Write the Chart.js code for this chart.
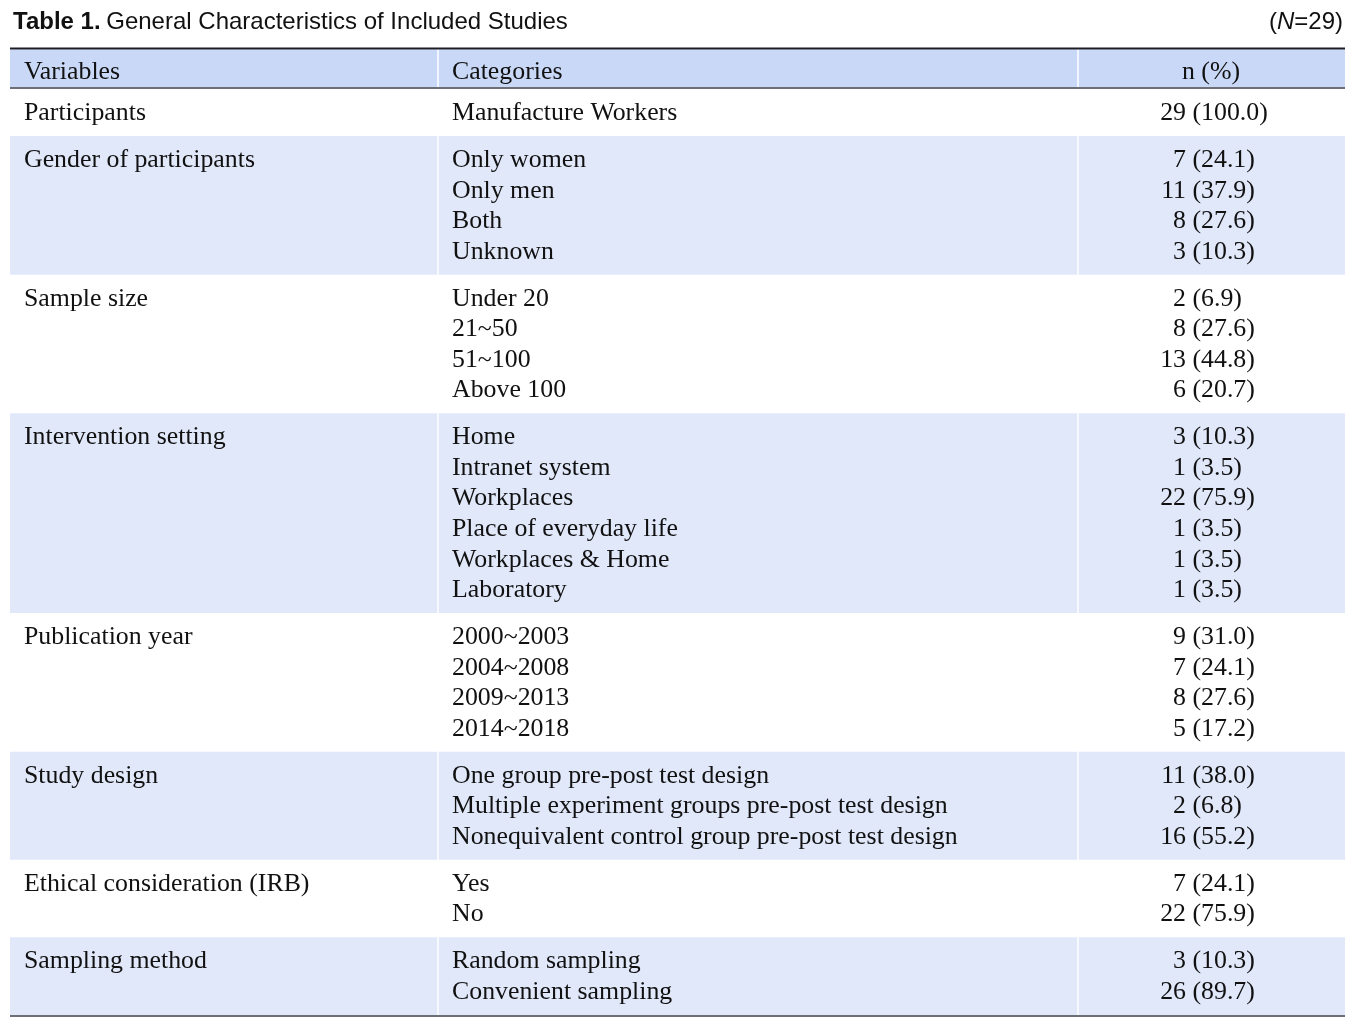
<!DOCTYPE html>
<html>
<head>
<meta charset="utf-8">
<script src="https://cdn.jsdelivr.net/npm/chart.js@4.4.1/dist/chart.umd.min.js"></script>
<style>
  html, body { margin: 0; padding: 0; background: #ffffff; }
  #wrap { width: 1365px; height: 1019px; }
</style>
</head>
<body>
<div id="wrap"><canvas id="c" width="1365" height="1019"></canvas></div>
<script>
// ---------------- DATA ----------------
const tableTitleBold = 'Table 1.';
const tableTitle = 'General Characteristics of Included Studies';
const sampleN = 29;
const headers = ['Variables', 'Categories', 'n (%)'];
const variables = [
  'Participants',
  'Gender of participants',
  'Sample size',
  'Intervention setting',
  'Publication year',
  'Study design',
  'Ethical consideration (IRB)',
  'Sampling method'
];
const categories = [
  ['Manufacture Workers'],
  ['Only women', 'Only men', 'Both', 'Unknown'],
  ['Under 20', '21~50', '51~100', 'Above 100'],
  ['Home', 'Intranet system', 'Workplaces', 'Place of everyday life', 'Workplaces & Home', 'Laboratory'],
  ['2000~2003', '2004~2008', '2009~2013', '2014~2018'],
  ['One group pre-post test design', 'Multiple experiment groups pre-post test design', 'Nonequivalent control group pre-post test design'],
  ['Yes', 'No'],
  ['Random sampling', 'Convenient sampling']
];
const counts = [
  [29],
  [7, 11, 8, 3],
  [2, 8, 13, 6],
  [3, 1, 22, 1, 1, 1],
  [9, 7, 8, 5],
  [11, 2, 16],
  [7, 22],
  [3, 26]
];
const percents = [
  [100.0],
  [24.1, 37.9, 27.6, 10.3],
  [6.9, 27.6, 44.8, 20.7],
  [10.3, 3.5, 75.9, 3.5, 3.5, 3.5],
  [31.0, 24.1, 27.6, 17.2],
  [38.0, 6.8, 55.2],
  [24.1, 75.9],
  [10.3, 89.7]
];

// ---------------- STYLE / LAYOUT ----------------
const W = 1365, H = 1019;
const colEdges = [10, 438, 1078, 1345];
const colGap = 1.5;
const headerColor = 'rgb(201,216,246)';
const bandColor = 'rgb(225,232,250)';
const gapColor = 'rgba(240,244,253,1)';
const topRuleColor = '#1c1c28';
const ruleColor = '#6d6f78';
const textColor = '#111111';
const serif = '"Liberation Serif", "Times New Roman", serif';
const sans = '"Liberation Sans", Arial, sans-serif';
const titleSize = 24;
const titleBaseline = 28.5;
const countAnchor = 1186;

const topRuleY = 48.5, topRuleT = 2;
const headTop = 49.5, headBottom = 87;
const headRuleY = 88, headRuleT = 2;
const bodyTop = 89;
const lineStep = 30.55;
const groupBase = 47;
const firstBaselineOffset = 31;
const headerBaseline = 78.5;

// fit serif font size to the widest category line
const mctx = document.createElement('canvas').getContext('2d');
mctx.font = '100px ' + serif;
const refW = mctx.measureText('Nonequivalent control group pre-post test design').width;
const bodySize = Math.min(27, 100 * 506 / refW);
const bodyFont = bodySize.toFixed(2) + 'px ' + serif;

// group geometry
const groups = [];
let yCursor = bodyTop;
variables.forEach((v, i) => {
  const n = categories[i].length;
  const h = groupBase + (n - 1) * lineStep;
  groups.push({ top: yCursor, h: h, n: n, shaded: i % 2 === 1 });
  yCursor += h;
});
const bottomRuleY = yCursor + 1;

function cellBars(center) {
  const out = [];
  for (let c = 0; c < 3; c++) {
    const x0 = colEdges[c] + (c > 0 ? colGap / 2 : 0);
    const x1 = colEdges[c + 1] - (c < 2 ? colGap / 2 : 0);
    out.push({ y: center, x: [x0, x1] });
  }
  return out;
}

const datasets = [];
// rules first so they are drawn on top
datasets.push({ label: 'topRule', order: 0, data: [{ y: topRuleY, x: [colEdges[0], colEdges[3]] }], backgroundColor: topRuleColor, barThickness: topRuleT });
datasets.push({ label: 'headRule', order: 0, data: [{ y: headRuleY, x: [colEdges[0], colEdges[3]] }], backgroundColor: ruleColor, barThickness: headRuleT });
datasets.push({ label: 'bottomRule', order: 0, data: [{ y: bottomRuleY, x: [colEdges[0], colEdges[3]] }], backgroundColor: ruleColor, barThickness: 2 });
datasets.push({
  label: 'header', order: 1, data: cellBars((headTop + headBottom) / 2),
  backgroundColor: headerColor, barThickness: headBottom - headTop
});
groups.forEach((g, i) => {
  if (g.shaded) {
    datasets.push({
      label: 'band' + i, order: 1, data: cellBars(g.top + g.h / 2),
      backgroundColor: bandColor, barThickness: g.h
    });
  }
});

const textPlugin = {
  id: 'tableText',
  afterDatasetsDraw(chart) {
    const ctx = chart.ctx;
    const xs = chart.scales.x, ys = chart.scales.y;
    const X = v => xs.getPixelForValue(v);
    const Y = v => ys.getPixelForValue(v);
    ctx.save();
    ctx.fillStyle = textColor;
    ctx.textBaseline = 'alphabetic';

    // title
    const tf = titleSize + 'px ' + sans;
    ctx.font = 'bold ' + tf;
    ctx.textAlign = 'left';
    ctx.fillText(tableTitleBold, X(13), Y(titleBaseline));
    const bw = ctx.measureText(tableTitleBold + ' ').width;
    ctx.font = tf;
    ctx.fillText(tableTitle, X(13) + bw - 1, Y(titleBaseline));
    // (N=29)
    const p1 = '(', p2 = 'N', p3 = '=' + sampleN + ')';
    ctx.font = tf;
    const w1 = ctx.measureText(p1).width, w3 = ctx.measureText(p3).width;
    ctx.font = 'italic ' + tf;
    const w2 = ctx.measureText(p2).width;
    let sx = X(1343) - (w1 + w2 + w3);
    ctx.font = tf; ctx.fillText(p1, sx, Y(titleBaseline)); sx += w1;
    ctx.font = 'italic ' + tf; ctx.fillText(p2, sx, Y(titleBaseline)); sx += w2;
    ctx.font = tf; ctx.fillText(p3, sx, Y(titleBaseline));

    // header
    ctx.font = bodyFont;
    ctx.textAlign = 'left';
    ctx.fillText(headers[0], X(24), Y(headerBaseline));
    ctx.fillText(headers[1], X(452), Y(headerBaseline));
    ctx.textAlign = 'center';
    ctx.fillText(headers[2], X(1211), Y(headerBaseline));

    // body
    const spaceW = ctx.measureText(' ').width;
    groups.forEach((g, i) => {
      const b0 = g.top + firstBaselineOffset;
      ctx.textAlign = 'left';
      ctx.fillText(variables[i], X(24), Y(b0));
      categories[i].forEach((cat, k) => {
        const by = Y(b0 + k * lineStep);
        ctx.textAlign = 'left';
        ctx.fillText(cat, X(452), by);
        ctx.textAlign = 'right';
        ctx.fillText(String(counts[i][k]), X(countAnchor), by);
        ctx.textAlign = 'left';
        ctx.fillText('(' + percents[i][k].toFixed(1) + ')', X(countAnchor) + spaceW, by);
      });
    });
    ctx.restore();
  }
};

new Chart(document.getElementById('c'), {
  type: 'bar',
  data: { datasets: datasets },
  options: {
    indexAxis: 'y',
    responsive: false,
    devicePixelRatio: 1,
    animation: false,
    events: [],
    layout: { padding: 0 },
    datasets: { bar: { grouped: false, borderWidth: 0, inflateAmount: 0 } },
    plugins: { legend: { display: false }, tooltip: { enabled: false } },
    scales: {
      x: { type: 'linear', min: 0, max: W, display: false, offset: false },
      y: { type: 'linear', min: 0, max: H, reverse: true, display: false, offset: false }
    }
  },
  plugins: [textPlugin]
});
</script>
</body>
</html>
